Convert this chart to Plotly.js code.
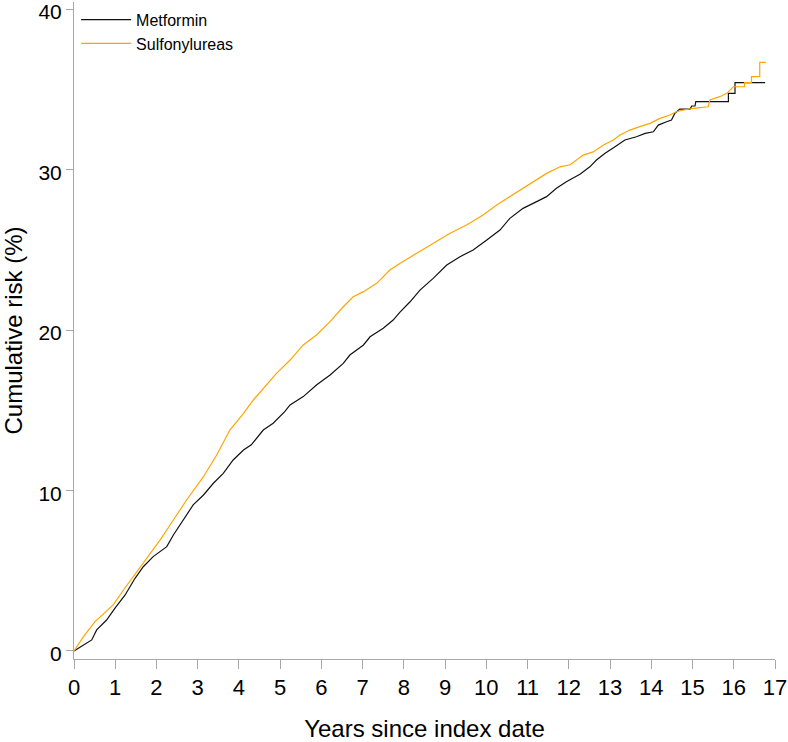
<!DOCTYPE html>
<html>
<head>
<meta charset="utf-8">
<script src="https://cdn.plot.ly/plotly-3.0.1.min.js"></script>
<style>html,body{margin:0;padding:0;background:#fff;}#chart{width:788px;height:742px;}</style>
</head>
<body>
<div id="chart"></div>
<script>
// Years since index date / cumulative risk (%)
var metforminYears = [0,0.23,0.43,0.55,0.79,0.99,1.24,1.48,1.68,1.92,2.25,2.41,2.65,2.89,3.14,3.38,3.62,3.86,4.11,4.30,4.59,4.83,5.11,5.24,5.56,5.88,6.21,6.53,6.69,7.02,7.18,7.50,7.74,7.90,8.15,8.39,8.71,9.04,9.36,9.68,10.01,10.33,10.57,10.89,11.22,11.46,11.70,11.94,12.27,12.51,12.67,12.88,13.12,13.36,13.64,13.85,14.05,14.17,14.37,14.49,14.57,14.69,14.94,14.98,15.06,15.08,15.87,15.87,16.03,16.03,16.76];
var metforminRisk  = [0,0.37,0.69,1.31,1.93,2.66,3.49,4.53,5.25,5.88,6.50,7.23,8.16,9.10,9.72,10.45,11.07,11.90,12.52,12.85,13.77,14.19,14.91,15.33,15.85,16.57,17.20,17.92,18.44,19.07,19.58,20.11,20.62,21.10,21.76,22.49,23.22,24.05,24.57,24.98,25.61,26.23,26.96,27.58,28.00,28.31,28.83,29.24,29.70,30.17,30.59,31.01,31.42,31.84,32.04,32.25,32.35,32.77,32.98,33.08,33.50,33.77,33.77,33.96,33.96,34.23,34.23,34.75,34.75,35.41,35.41];

var sulfoYears = [0,0.23,0.51,0.95,1.20,1.44,1.76,2.09,2.41,2.73,3.14,3.46,3.78,4.11,4.35,4.59,4.91,5.24,5.56,5.88,6.21,6.53,6.77,7.02,7.34,7.66,7.90,8.31,8.71,9.12,9.52,9.92,10.25,10.57,10.89,11.22,11.46,11.79,12.03,12.35,12.59,12.84,13.08,13.24,13.48,13.72,13.97,14.21,14.45,14.61,14.78,15.02,15.38,15.42,15.66,15.83,15.99,16.26,16.26,16.43,16.43,16.63,16.63,16.78];
var sulfoRisk  = [0,0.89,1.83,2.87,3.80,4.63,5.77,6.92,8.16,9.41,10.86,12.21,13.77,14.81,15.64,16.37,17.30,18.13,19.07,19.69,20.52,21.45,22.07,22.39,22.91,23.74,24.15,24.78,25.40,26.03,26.54,27.17,27.79,28.31,28.83,29.35,29.76,30.17,30.30,30.90,31.10,31.53,31.84,32.15,32.46,32.67,32.88,33.19,33.40,33.60,33.71,33.81,33.91,34.33,34.54,34.75,35.16,35.16,35.42,35.42,35.79,35.79,36.68,36.68];

var xTicks = [0,1,2,3,4,5,6,7,8,9,10,11,12,13,14,15,16,17];
var yTicks = [0,10,20,30,40];

var FONT = 'Liberation Sans, Arial, Helvetica, sans-serif';
var AXIS_GREY = '#a8a8a8';

var traces = [
  {x: metforminYears, y: metforminRisk, type: 'scatter', mode: 'lines', name: 'Metformin',
   line: {color: '#111111', width: 1.2}},
  {x: sulfoYears, y: sulfoRisk, type: 'scatter', mode: 'lines', name: 'Sulfonylureas',
   line: {color: '#FFA500', width: 1.2}}
];

var layout = {
  width: 788, height: 742,
  margin: {l: 74, r: 13, t: 2, b: 83},
  paper_bgcolor: '#ffffff', plot_bgcolor: '#ffffff',
  font: {family: FONT, color: '#000000'},
  showlegend: true,
  legend: {x: 0.003, y: 0.999, xanchor: 'left', yanchor: 'top', bgcolor: 'rgba(0,0,0,0)',
           font: {family: FONT, size: 16, color: '#000'}, itemwidth: 50, tracegroupgap: 0},
  xaxis: {
    range: [0, 17], tickmode: 'array', tickvals: xTicks, ticktext: xTicks.map(String),
    showgrid: false, zeroline: false, showline: true, linecolor: AXIS_GREY, linewidth: 1,
    ticks: 'outside', ticklen: 9, tickcolor: AXIS_GREY, tickwidth: 1,
    tickfont: {family: FONT, size: 22, color: '#000'},
    title: {text: 'Years since index date', font: {family: FONT, size: 24, color: '#000'}, standoff: 25},
    automargin: false
  },
  yaxis: {
    range: [-0.5, 40.44], tickmode: 'array', tickvals: yTicks, ticktext: yTicks.map(String),
    showgrid: false, zeroline: false, showline: true, linecolor: AXIS_GREY, linewidth: 1,
    ticks: 'outside', ticklen: 7, tickcolor: AXIS_GREY, tickwidth: 1,
    ticklabeloverflow: 'allow', ticklabelshift: 3,
    tickfont: {family: FONT, size: 21, color: '#000'},
    title: {text: 'Cumulative risk (%)', font: {family: FONT, size: 24, color: '#000'}, standoff: 15},
    automargin: false
  }
};

Plotly.newPlot('chart', traces, layout, {displayModeBar: false, staticPlot: true});
</script>
</body>
</html>
